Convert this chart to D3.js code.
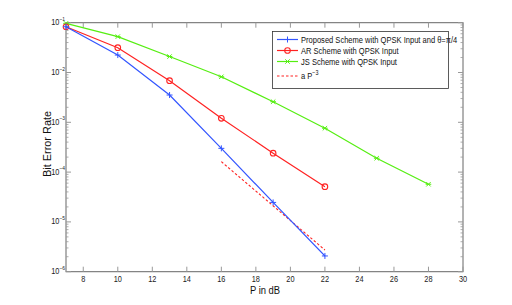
<!DOCTYPE html>
<html><head><meta charset="utf-8">
<script src="https://d3js.org/d3.v7.min.js"></script>
<style>
body{margin:0;background:#fff;}
svg{display:block;font-family:"Liberation Sans",Arial,sans-serif;}
</style></head>
<body><svg id="c" width="512" height="305"></svg>
<script>
const pdb = [7,10,13,16,19,22];
const proposed = [0.083,0.0224,0.00353,3.0e-4,2.46e-5,2.07e-6];
const arScheme = [0.083,0.0315,0.00684,0.0012,2.4e-4,5.1e-5];
const jsX = [7,10,13,16,19,22,25,28];
const jsScheme = [0.097,0.0525,0.0209,0.0082,0.00259,7.6e-4,1.9e-4,5.7e-5];
const refX = [16,22];
const refY = [1.62e-4,2.73e-6];
const xTicks = [8,10,12,14,16,18,20,22,24,26,28,30];
const yExps = [-1,-2,-3,-4,-5,-6];
const legendLabels = ["Proposed Scheme with QPSK Input and \u03b8=\u03c0/4","AR Scheme with QPSK Input","JS Scheme with QPSK Input","a P"];

const svg = d3.select("#c");
const L=66,R=463,T=22.7,B=271.7;
const x = d3.scaleLinear().domain([7,30]).range([L,R]);
const y = d3.scaleLog().domain([1e-6,1e-1]).range([B,T]);
const axisCol="#666";
const SX=0.82; // narrow font emulation

function ntext(parent,px,py,anchor,size){
  const gg=parent.append("g").attr("transform",`translate(${px},${py}) scale(${SX},1)`);
  return gg.append("text").attr("x",0).attr("y",0).attr("text-anchor",anchor).attr("font-size",size).attr("fill","#222");
}

svg.append("rect").attr("x",L).attr("y",T).attr("width",R-L).attr("height",B-T)
  .attr("fill","none").attr("stroke",axisCol).attr("stroke-width",1);

const g = svg.append("g");
xTicks.forEach(v=>{
  g.append("line").attr("x1",x(v)).attr("x2",x(v)).attr("y1",B).attr("y2",B-5).attr("stroke","#999");
  g.append("line").attr("x1",x(v)).attr("x2",x(v)).attr("y1",T).attr("y2",T+5).attr("stroke","#999");
  ntext(g,x(v),B+10.5,"middle",9).text(v);
});
for(let e=-6;e<-1;e++){
  for(let m=2;m<=9;m++){
    const v=m*Math.pow(10,e);
    g.append("line").attr("x1",L).attr("x2",L+2.5).attr("y1",y(v)).attr("y2",y(v)).attr("stroke","#999").attr("stroke-width",0.8);
    g.append("line").attr("x1",R).attr("x2",R-2.5).attr("y1",y(v)).attr("y2",y(v)).attr("stroke","#999").attr("stroke-width",0.8);
  }
}
yExps.forEach(e=>{
  const v=Math.pow(10,e);
  g.append("line").attr("x1",L).attr("x2",L+5).attr("y1",y(v)).attr("y2",y(v)).attr("stroke","#999");
  g.append("line").attr("x1",R).attr("x2",R-5).attr("y1",y(v)).attr("y2",y(v)).attr("stroke","#999");
  const t=ntext(g,L-1,y(v)+2.5,"end",9);
  t.append("tspan").text("10");
  t.append("tspan").attr("dy",-4.5).attr("font-size",6).text("\u2212"+(-e));
});

ntext(svg,265,294,"middle",11.5).attr("fill","#111").text("P in dB");
svg.append("g").attr("transform","translate(50.5,144) rotate(-90) scale(0.95,1)")
  .append("text").attr("text-anchor","middle").attr("font-size",11.5).attr("fill","#111").text("Bit Error Rate");

const line = d3.line().x(d=>x(d[0])).y(d=>y(d[1]));
const blue="#3355ff",red="#ff2222",green="#55ee11";

svg.append("path").datum(d3.zip(refX,refY)).attr("d",line).attr("fill","none")
  .attr("stroke",red).attr("stroke-width",1.1).attr("stroke-dasharray","2.5,2");

function series(xs,ys,col,marker){
  const data=d3.zip(xs,ys);
  svg.append("path").datum(data).attr("d",line).attr("fill","none").attr("stroke",col).attr("stroke-width",1.2);
  data.forEach(d=>drawMarker(x(d[0]),y(d[1]),col,marker));
}
function drawMarker(cx,cy,col,marker){
  if(marker==="plus"){
    svg.append("path").attr("d",`M${cx-3},${cy}H${cx+3}M${cx},${cy-3}V${cy+3}`).attr("stroke",col).attr("stroke-width",1);
  } else if(marker==="circle"){
    svg.append("circle").attr("cx",cx).attr("cy",cy).attr("r",2.8).attr("fill","none").attr("stroke",col).attr("stroke-width",1.1);
  } else {
    svg.append("path").attr("d",`M${cx-2.2},${cy-2.2}L${cx+2.2},${cy+2.2}M${cx-2.2},${cy+2.2}L${cx+2.2},${cy-2.2}M${cx-2.8},${cy}H${cx+2.8}`).attr("stroke",col).attr("stroke-width",1);
  }
}
series(jsX,jsScheme,green,"star");
series(pdb,arScheme,red,"circle");
series(pdb,proposed,blue,"plus");

const lg=svg.append("g");
lg.append("rect").attr("x",272.5).attr("y",31.5).attr("width",176).attr("height",57).attr("fill","#fff").attr("stroke","#333").attr("stroke-width",0.8);
const ly=[39.5,50.5,61.5,76];
const cols=[blue,red,green,red];
const marks=["plus","circle","star",null];
ly.forEach((yy,i)=>{
  const p=lg.append("line").attr("x1",277).attr("x2",298).attr("y1",yy).attr("y2",yy).attr("stroke",cols[i]).attr("stroke-width",1.2);
  if(i===3) p.attr("stroke-dasharray","2.5,2");
  if(marks[i]) drawMarker(287.5,yy,cols[i],marks[i]);
  const t=ntext(lg,301,yy+3,"start",9.2).attr("fill","#111");
  t.append("tspan").text(legendLabels[i]);
  if(i===3) t.append("tspan").attr("dy",-4.5).attr("font-size",6.5).text("\u22123");
});
</script></body></html>
